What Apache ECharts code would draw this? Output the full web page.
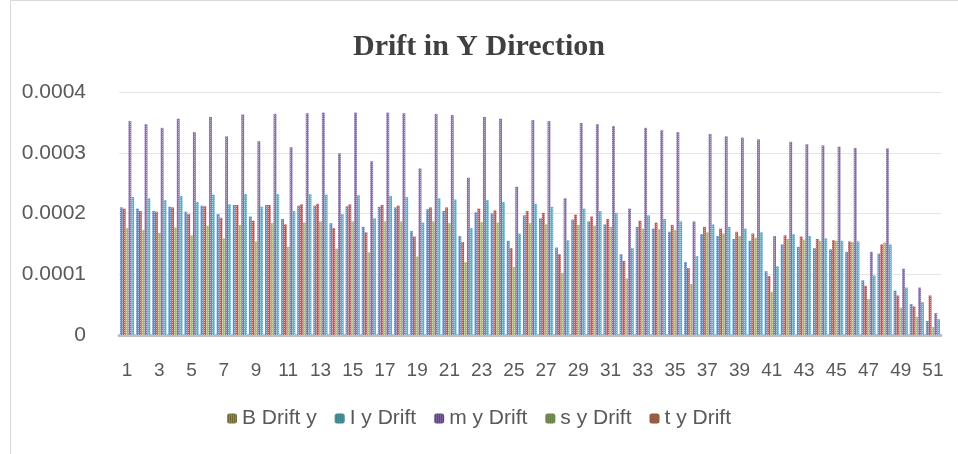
<!DOCTYPE html>
<html>
<head>
<meta charset="utf-8">
<script src="https://cdn.jsdelivr.net/npm/echarts@6/dist/echarts.min.js"></script>
<style>html,body{margin:0;padding:0;background:#fff}#c{width:958px;height:454px}</style>
</head>
<body>
<div id="c"></div>
<script>
const categories = Array.from({length: 51}, (_, i) => String(i + 1));
const yTicks = [0, 0.0001, 0.0002, 0.0003, 0.0004];
const legendOrder = ['B Drift y', 'I y Drift', 'm y Drift', 's y Drift', 't y Drift'];

// values in units of 1e-4
const bDrift = [2.10,2.08,2.04,2.11,2.03,2.13,1.99,2.14,1.95,2.14,1.91,2.13,2.13,1.84,2.12,1.78,2.11,2.10,1.71,2.07,2.04,1.63,2.02,2.00,1.55,1.97,1.92,1.44,1.90,1.87,1.82,1.33,1.78,1.75,1.70,1.20,1.66,1.63,1.58,1.55,1.05,1.49,1.45,1.43,1.41,1.37,0.90,1.34,0.73,0.51,0.23];
const tDrift = [2.08,2.04,2.03,2.10,1.99,2.12,1.93,2.14,1.88,2.14,1.82,2.15,2.16,1.76,2.15,1.69,2.14,2.13,1.62,2.10,2.10,1.53,2.08,2.05,1.43,2.04,2.01,1.33,1.98,1.95,1.91,1.22,1.88,1.85,1.81,1.10,1.78,1.75,1.70,1.67,0.97,1.64,1.62,1.58,1.56,1.54,0.81,1.49,0.65,0.47,0.65];
const sDrift = [1.76,1.73,1.68,1.77,1.64,1.80,1.59,1.81,1.54,1.84,1.45,1.85,1.87,1.42,1.87,1.36,1.87,1.87,1.29,1.87,1.84,1.20,1.86,1.85,1.12,1.84,1.82,1.02,1.81,1.80,1.78,0.93,1.75,1.74,1.73,0.84,1.69,1.67,1.63,1.60,0.71,1.58,1.57,1.55,1.55,1.53,0.59,1.52,0.45,0.30,0.13];
const mDrift = [3.52,3.47,3.41,3.56,3.34,3.59,3.27,3.63,3.19,3.64,3.09,3.65,3.66,2.99,3.66,2.86,3.66,3.65,2.74,3.64,3.62,2.59,3.59,3.56,2.44,3.54,3.52,2.25,3.49,3.47,3.44,2.08,3.41,3.37,3.34,1.87,3.31,3.27,3.25,3.22,1.63,3.18,3.14,3.12,3.10,3.08,1.37,3.07,1.09,0.78,0.36];
const iDrift = [2.27,2.25,2.22,2.29,2.19,2.31,2.15,2.32,2.11,2.32,2.04,2.32,2.31,1.99,2.30,1.92,2.29,2.27,1.85,2.25,2.23,1.76,2.22,2.19,1.67,2.16,2.11,1.56,2.08,2.04,2.01,1.43,1.97,1.91,1.87,1.30,1.82,1.78,1.75,1.69,1.13,1.66,1.63,1.59,1.55,1.54,0.98,1.49,0.78,0.54,0.26];

const scale = v => v.map(x => +(x * 1e-4).toPrecision(4));
const decal = {symbol: 'rect', symbolSize: 1, dashArrayX: [1, 1], dashArrayY: [1, 1], color: 'rgba(255,255,255,0.45)'};

function mk(name, data, color) {
  return {name, type: 'bar', data: scale(data), barGap: '0%', barCategoryGap: '12%',
    itemStyle: {color, decal}, emphasis: {disabled: true}};
}

const chart = echarts.init(document.getElementById('c'), null, {renderer: 'canvas'});
chart.setOption({
  animation: false,
  backgroundColor: '#fff',
  title: {text: 'Drift in Y Direction', left: 'center', top: 27,
    textStyle: {fontFamily: 'Liberation Serif', fontWeight: 'bold', fontSize: 30, color: '#404040'}},
  grid: {left: 119, right: 17, top: 92, bottom: 119},
  legend: {bottom: 20, left: 'center', itemWidth: 10, itemHeight: 10, itemGap: 18,
    data: [
      {name: 'B Drift y', itemStyle: {color: '#6e6a35'}},
      {name: 'I y Drift', itemStyle: {color: '#2e7c86'}},
      {name: 'm y Drift', itemStyle: {color: '#5a3f82'}},
      {name: 's y Drift', itemStyle: {color: '#5f7a3a'}},
      {name: 't y Drift', itemStyle: {color: '#8a4a2c'}}
    ],
    textStyle: {fontFamily: 'Liberation Sans', fontSize: 21, color: '#595959'}},
  xAxis: {type: 'category', data: categories,
    axisLine: {lineStyle: {color: '#BFBFBF', width: 3}},
    axisTick: {show: false},
    axisLabel: {interval: 1, margin: 26, fontFamily: 'Liberation Sans', fontSize: 19, color: '#595959'}},
  yAxis: {type: 'value', min: yTicks[0], max: yTicks[yTicks.length - 1], interval: 0.0001,
    axisLine: {show: false}, axisTick: {show: false},
    splitLine: {lineStyle: {color: '#E6E6E6', width: 1}},
    axisLabel: {margin: 33, fontFamily: 'Liberation Sans', fontSize: 21, color: '#595959',
      formatter: v => v === 0 ? '0' : v.toFixed(4)}},
  series: [
    mk('B Drift y', bDrift, '#5b8bd0'),
    mk('t y Drift', tDrift, '#cc5550'),
    mk('s y Drift', sDrift, '#a0bf60'),
    mk('m y Drift', mDrift, '#8a6cb0'),
    mk('I y Drift', iDrift, '#4fb4cc')
  ],
  graphic: [{type: 'rect', shape: {x: 10.5, y: 0.5, width: 960, height: 460}, style: {fill: 'none', stroke: '#D9D9D9', lineWidth: 1}, silent: true}]
});
</script>
</body>
</html>
